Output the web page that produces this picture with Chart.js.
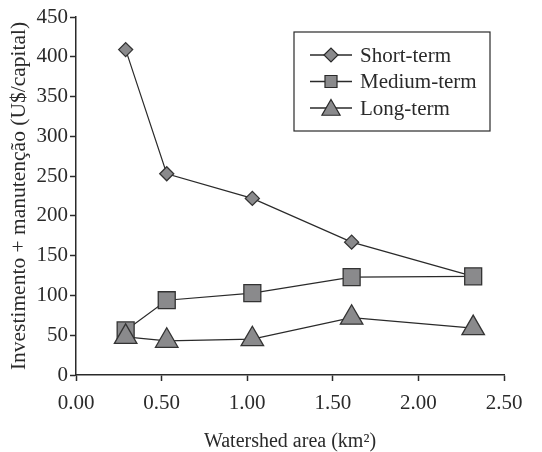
<html>
  <head>
    <script src="https://cdn.jsdelivr.net/npm/chart.js@4.4.0/dist/chart.umd.min.js"></script>
    <style>
      body { margin: 0; background: #fff; }
      #wrap { width: 542px; height: 452px; }
    </style>
  </head>
  <body>
    <div id="wrap"><canvas id="myChart" width="542" height="452"></canvas></div>
    <script>
      // values
      const AREA = [0.29, 0.53, 1.03, 1.61, 2.32];        // km2
      const SHORT_TERM = [409, 253, 222, 167, 124];
      const MEDIUM_TERM = [56, 94, 103, 123, 124];
      const LONG_TERM = [48, 43, 45, 72, 59];
      const LABELS = ["Short-term", "Medium-term", "Long-term"];

      const FONT = "'Liberation Serif', 'Times New Roman', serif";
      const INK = "#2a2a2a";
      const FILL = "#8a8a8c";

      function pts(ys) {
        return AREA.map((x, i) => ({ x: x, y: ys[i] }));
      }

      // boxed legend with line + marker, like the original
      const boxLegend = {
        id: "boxLegend",
        afterDraw(chart) {
          const ctx = chart.ctx;
          const ca = chart.chartArea;
          const bx = ca.left + 218, by = ca.top + 15, bw = 196, bh = 99;
          ctx.save();
          ctx.strokeStyle = INK;
          ctx.lineWidth = 1.2;
          ctx.strokeRect(bx, by, bw, bh);
          const sizes = [7, 8.5, 10.5];
          chart.data.datasets.forEach((ds, i) => {
            const y = by + 23 + i * 26.5;
            ctx.strokeStyle = INK;
            ctx.lineWidth = 1.5;
            ctx.beginPath();
            ctx.moveTo(bx + 16, y);
            ctx.lineTo(bx + 58, y);
            ctx.stroke();
            ctx.fillStyle = FILL;
            ctx.strokeStyle = INK;
            ctx.lineWidth = 1.2;
            const yy = ds.pointStyle === "triangle" ? y + 2 : y;
            Chart.helpers.drawPoint(ctx, { pointStyle: ds.pointStyle, radius: sizes[i], borderWidth: 1.2 }, bx + 37, yy);
            ctx.fillStyle = INK;
            ctx.font = "21px " + FONT;
            ctx.textBaseline = "middle";
            ctx.textAlign = "left";
            ctx.fillText(ds.label, bx + 66, y + 1);
          });
          ctx.restore();
        }
      };

      const common = {
        borderColor: INK,
        borderWidth: 1.2,
        backgroundColor: FILL,
        pointBackgroundColor: FILL,
        pointBorderColor: "#333",
        pointBorderWidth: 1.3,
        tension: 0
      };

      const ctx = document.getElementById("myChart").getContext("2d");
      const myChart = new Chart(ctx, {
        type: "line",
        data: {
          datasets: [
            Object.assign({ label: LABELS[0], data: pts(SHORT_TERM), pointStyle: "rectRot", pointRadius: 7, order: 2 }, common),
            Object.assign({ label: LABELS[1], data: pts(MEDIUM_TERM), pointStyle: "rect", pointRadius: 12, order: 1 }, common),
            Object.assign({ label: LABELS[2], data: pts(LONG_TERM), pointStyle: "triangle", pointRadius: 13, order: 0 }, common)
          ]
        },
        options: {
          responsive: false,
          animation: false,
          layout: { padding: { top: 17, right: 38, bottom: 0, left: 0 } },
          plugins: {
            legend: { display: false },
            tooltip: { enabled: false }
          },
          scales: {
            x: {
              type: "linear",
              min: 0,
              max: 2.5,
              afterFit: function(scale) { scale.height = 77; },
              ticks: {
                stepSize: 0.5,
                color: INK,
                padding: 10,
                font: { family: FONT, size: 21 },
                callback: function(v) { return Number(v).toFixed(2); }
              },
              grid: { drawOnChartArea: false, tickLength: 6, tickColor: INK, tickWidth: 1.5 },
              border: { color: INK, width: 1.5 },
              title: {
                display: true,
                text: "Watershed area (km²)",
                color: INK,
                font: { family: FONT, size: 20, lineHeight: 1.0 },
                padding: { top: 0, bottom: 0 }
              }
            },
            y: {
              min: 0,
              max: 450,
              afterFit: function(scale) { scale.width = 76; },
              ticks: {
                stepSize: 50,
                color: INK,
                padding: 2,
                font: { family: FONT, size: 21 }
              },
              grid: { drawOnChartArea: false, tickLength: 6, tickColor: INK, tickWidth: 1.5 },
              border: { color: INK, width: 1.5 },
              title: {
                display: true,
                text: "Investimento + manutenção (U$/capital)",
                color: INK,
                font: { family: FONT, size: 21.5 },
                padding: { top: 6, bottom: 0 }
              }
            }
          }
        },
        plugins: [boxLegend]
      });
    </script>
  </body>
</html>
